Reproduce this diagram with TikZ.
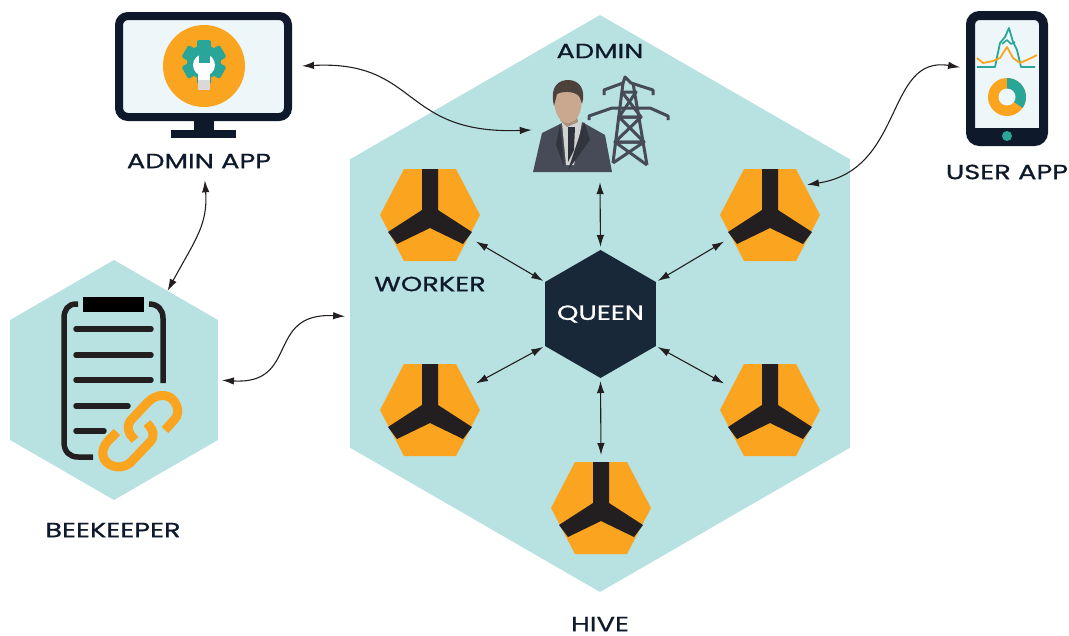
\documentclass[tikz,border=0pt]{standalone}
\usepackage{fontspec}
\setmainfont{Poppins}[FakeStretch=1.33, FakeBold=0.9]
\usetikzlibrary{shapes.geometric, arrows.meta}

\definecolor{hiveteal}{HTML}{B8E1E1}
\definecolor{beeorange}{HTML}{FAA41F}
\definecolor{beeblack}{HTML}{231F20}
\definecolor{queenblue}{HTML}{182838}
\definecolor{framedark}{HTML}{0E1A2B}
\definecolor{screenpale}{HTML}{EDF6F8}
\definecolor{gearteal}{HTML}{2AA698}
\definecolor{suitgrey}{HTML}{474B57}
\definecolor{hairbrown}{HTML}{4D423B}
\definecolor{skintan}{HTML}{C9A88F}

\tikzset{
	caption/.style={font=\fontsize{20.5}{24}\selectfont, text=framedark, inner sep=0pt},
	hexspot/.style={regular polygon, regular polygon sides=6, shape border rotate=30, inner sep=0pt, outer sep=0pt},
	workerspot/.style={circle, minimum size=106, inner sep=0pt, outer sep=0pt},
	link/.style={{Latex[length=12pt,width=7.5pt]}-{Latex[length=12pt,width=7.5pt]}, line width=1.1pt, beeblack}
}

\newcommand{\workerhex}[2]{
	\node (#1) [workerspot] at (#2) {};
	\begin{scope}[shift={(#2)}]
		\fill [beeorange] (-50,0) -- (-26,-46) -- (26,-46) -- (50,0) -- (26,46) -- (-26,46) -- cycle;
		\fill [beeblack] (-8,-46) -- (8,-46) -- (8,-5) -- (42,17) -- (33,29) -- (0,13) -- (-33,29) -- (-42,17) -- (-8,-5) -- cycle;
	\end{scope}
}

\begin{document}
\begin{tikzpicture}[x=1pt, y=-1pt]
	\useasboundingbox (0,0) rectangle (1069,635);

	% hexagons
	\node (hive) [hexspot, fill=hiveteal, minimum size=577] at (600,303.5) {};
	\node (beekeeper) [hexspot, fill=hiveteal, minimum size=240] at (114,380) {};
	\node (queen) [hexspot, fill=queenblue, minimum size=128, label={[caption, text=white]center:QUEEN}] at (600.5,314) {};

	% workers
	\workerhex{workerA}{430,215}
	\workerhex{workerB}{770,215}
	\workerhex{workerC}{430,410}
	\workerhex{workerD}{770,410}
	\workerhex{workerE}{601,508}

	% admin app
	\fill [framedark] (194,118) rectangle (214,131);
	\fill [framedark] (171,130) rectangle (236,138);
	\node (adminapp) [draw=framedark, fill=screenpale, line width=8pt, rounded corners=9pt, minimum width=169, minimum height=101, inner sep=0pt] at (203.5,66.5) {};
	\fill [beeorange] (204,66) circle (41);
	\fill [gearteal] (204,62) circle (17);
	\foreach \a in {0,60,...,300}
		\fill [gearteal, rounded corners=1.5pt, rotate around={\a:(204,62)}] (197,40) rectangle (211,52);
	\fill [white] (204,65) circle (11);
	\fill [white] (198,70) rectangle (210,82);
	\fill [gray!30] (198,80) rectangle (210,90);
	\fill [gearteal] (198.5,42) rectangle (209.5,63);

	% user app
	\node (userapp) [draw=framedark, fill=screenpale, line width=9pt, rounded corners=9pt, minimum width=73, minimum height=126, inner sep=0pt] at (1007,78.5) {};
	\fill [framedark] (970,128) rectangle (1044,142);
	\fill [gearteal] (1007,136) circle (5);
	\draw [gearteal, line width=1.8pt, line join=round] (977,67) -- (995,67) -- (1000,43) -- (1005,37) -- (1009,28) -- (1013,42) -- (1017,50) -- (1021,67) -- (1035,67);
	\draw [gearteal, line width=1.6pt, line join=round] (1002,44) -- (1007,40) -- (1011,44) -- (1015,42);
	\draw [beeorange, line width=1.8pt, line join=round] (977,58) -- (983,63) -- (993,61) -- (1000,58) -- (1007,47) -- (1013,58) -- (1020,63) -- (1029,59) -- (1037,55);
	\fill [beeorange] (1007,97) circle (19);
	\fill [gearteal] (1007,97) -- (1007,78) arc (-90:35:19) -- cycle;
	\fill [screenpale] (1007,97) circle (8.5);

	% admin, person and pylon
	\node (admin) [minimum width=80, minimum height=84, inner sep=0pt] at (572,130) {};
	\fill [suitgrey] (533,172) -- (542,133) -- (562,123) -- (582,122) -- (605,135) -- (612,172) -- cycle;
	\fill [gray!35] (562,123) -- (582,122) -- (574,165) -- (566,165) -- cycle;
	\fill [suitgrey!65!black] (568,127) -- (575,127) -- (574,150) -- (568,162) -- cycle;
	\fill [suitgrey!70!black] (560,124) -- (556,145) -- (564,166) -- (562,140) -- cycle;
	\fill [suitgrey!70!black] (584,122) -- (590,140) -- (568,170) -- (578,140) -- cycle;
	\fill [skintan!85!black] (560,110) -- (576,110) -- (578,122) -- (567,127) -- (560,120) -- cycle;
	\fill [skintan] (568,103) ellipse (13.5 and 20);
	\fill [hairbrown] (554,106) .. controls (549,85) and (560,80) .. (568,80) .. controls (580,80) and (586,90) .. (582,104) -- (580,98) .. controls (578,92) and (565,90) .. (557,94) -- cycle;
	\begin{scope}[suitgrey, line width=3pt, line join=round]
		\draw (604,95) -- (604,90) -- (623,83) -- (625,77) -- (631,83) -- (653,90) -- (653,95);
		\draw (589,120) -- (589,116) -- (612,108) -- (650,108) -- (668,116) -- (668,120);
		\draw (623,83) -- (613,163);
		\draw (633,83) -- (647,165);
		\draw (622,92) -- (636,92) -- (619,117) -- (641,117) -- (615,142) -- (644,142) -- (613,163);
		\draw (622,92) -- (641,117) -- (619,117) -- (644,142) -- (615,142) -- (647,165);
	\end{scope}

	% clipboard and chain
	\begin{scope}[beeblack, line width=5.5pt]
		\draw (78,304) -- (76,304) .. controls (68,304) and (64,310) .. (64,318) -- (64,442) .. controls (64,452) and (70,457) .. (78,457) -- (93,457);
		\draw (149,304) .. controls (158,304) and (163,310) .. (163,318) -- (163,383);
		\draw [line cap=round] (76,329) -- (151,329);
		\draw [line cap=round] (76,355) -- (151,355);
		\draw [line cap=round] (76,380) -- (151,380);
		\draw [line cap=round] (76,406) -- (128,406);
		\draw [line cap=round] (76,431) -- (104,431);
	\end{scope}
	\fill [black] (83,297) rectangle (144,312);
	\begin{scope}[beeorange, line width=9pt]
		\draw (135,440) -- (130,434) .. controls (127,428) and (128,424) .. (131,420) -- (148,402) .. controls (156,394) and (168,393) .. (174,401) .. controls (180,410) and (178,416) .. (174,420) -- (165,430);
		\draw (117,432) -- (108,441) .. controls (100,450) and (102,460) .. (109,464) .. controls (117,469) and (125,467) .. (130,463) -- (150,442) .. controls (155,436) and (154,431) .. (147,423);
	\end{scope}

	% captions
	\node (adminappcap) [caption] at (199,161) {ADMIN APP};
	\node (userappcap) [caption] at (1007,172) {USER APP};
	\node (admincap) [caption] at (600,51) {ADMIN};
	\node (workercap) [caption] at (430,284) {WORKER};
	\node (beekeepercap) [caption] at (113,530) {BEEKEEPER};
	\node (hivecap) [caption] at (600,624) {HIVE};

	% connectors
	\draw [link, shorten <=10pt] (adminapp.east) .. controls (420,60) and (400,135) .. (admin.west);
	\draw [link, shorten <=12pt] (adminappcap.south) ++(5,0) coordinate (adminappfoot) .. controls (208,225) and (195,240) .. (beekeeper.59);
	\draw [link, shorten <=4pt, shorten >=5pt] (beekeeper.east) .. controls (300,385) and (265,312) .. (hive.183);
	\draw [link, shorten <=6pt, shorten >=-6pt] (userapp.166) .. controls (885,55) and (905,170) .. (workerB.36);
	\draw [link, shorten >=3pt] (admin.south) ++(28,10) coordinate (adminfoot) -- (queen.90);
	\draw [link, shorten >=2pt] (workerA.-30) -- (queen.150);
	\draw [link, shorten >=2pt] (workerB.-150) -- (queen.30);
	\draw [link, shorten >=2pt] (workerC.30) -- (queen.210);
	\draw [link, shorten >=2pt] (workerD.150) -- (queen.-30);
	\draw [link, shorten <=3pt] (queen.-90) -- (workerE.90);
\end{tikzpicture}
\end{document}
